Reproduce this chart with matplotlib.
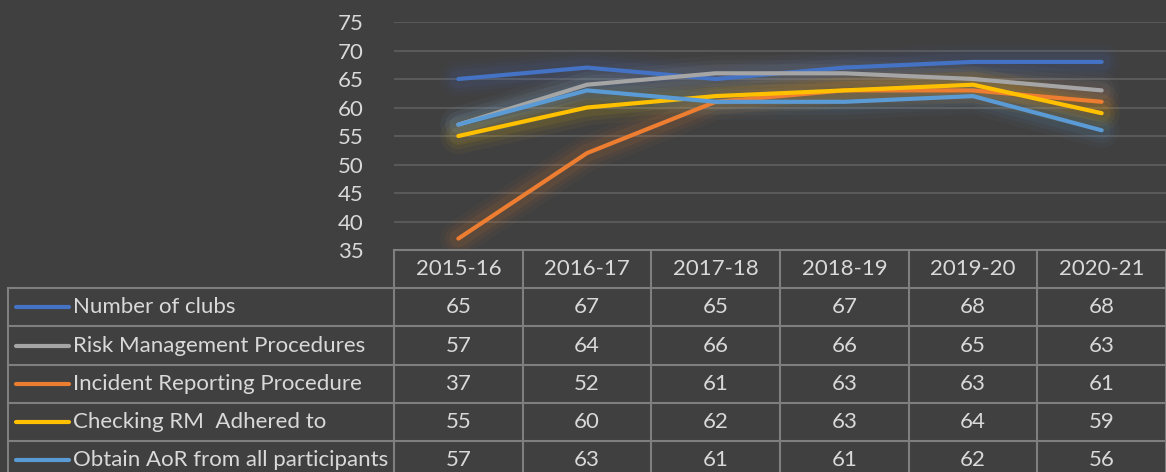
import matplotlib.pyplot as plt
from matplotlib.lines import Line2D

seasons = ["2015-16", "2016-17", "2017-18", "2018-19", "2019-20", "2020-21"]
series_names = [
    "Number of clubs",
    "Risk Management Procedures",
    "Incident Reporting Procedure",
    "Checking RM  Adhered to",
    "Obtain AoR from all participants",
]
number_of_clubs = [65, 67, 65, 67, 68, 68]
risk_management = [57, 64, 66, 66, 65, 63]
incident_reporting = [37, 52, 61, 63, 63, 61]
checking_rm = [55, 60, 62, 63, 64, 59]
obtain_aor = [57, 63, 61, 61, 62, 56]
series_values = [number_of_clubs, risk_management, incident_reporting, checking_rm, obtain_aor]
colors = ["#4472C4", "#A5A5A5", "#ED7D31", "#FFC000", "#5B9BD5"]
y_ticks = [35, 40, 45, 50, 55, 60, 65, 70, 75]

BG = "#404040"
TXT = "#D9D9D9"
GRID = "#5C5C5C"
BORDER = "#7F7F7F"
plt.rcParams["font.family"] = ["Lato", "DejaVu Sans"]
FS = 16

W, H = 1166, 472
fig = plt.figure(figsize=(W / 100, H / 100), dpi=100, facecolor=BG)

# plot area in pixels
px_left, px_right, px_top, px_bot = 394, 1166, 22, 250
ax = fig.add_axes([px_left / W, 1 - px_bot / H, (px_right - px_left) / W, (px_bot - px_top) / H])
ax.set_facecolor(BG)
ax.set_xlim(-0.5, len(seasons) - 0.5)
ax.set_ylim(35, 75)
for s in ax.spines.values():
    s.set_visible(False)
ax.set_xticks([])
ax.set_yticks(y_ticks)
ax.set_yticklabels([str(t) for t in y_ticks], color=TXT, fontsize=FS)
ax.tick_params(axis="y", length=0, pad=22)
for t in y_ticks[1:]:
    ax.axhline(t, color=GRID, lw=1.3, zorder=1)

x = list(range(len(seasons)))
for vals, c in zip(series_values, colors):
    # soft glow
    for w, a in [(26, 0.04), (19, 0.06), (13, 0.08)]:
        ax.plot(x, vals, color=c, lw=w, alpha=a, solid_capstyle="round",
                solid_joinstyle="round", zorder=2)
for vals, c in zip(series_values, colors):
    ax.plot(x, vals, color=c, lw=3, solid_capstyle="round", solid_joinstyle="round", zorder=3)

# data table drawn in pixel coordinates
tab = fig.add_axes([0, 0, 1, 1])
tab.set_xlim(0, W)
tab.set_ylim(H, 0)
tab.axis("off")
tab.patch.set_alpha(0)

ncol = len(seasons)
col_w = (px_right - px_left) / ncol
col_edges = [px_left + i * col_w for i in range(ncol + 1)]
row_h = 38.2
head_top = px_bot
row_tops = [head_top + row_h * (i + 1) for i in range(len(series_names) + 1)]
label_left = 8

lk = dict(color=BORDER, lw=1.5)
# header
tab.add_line(Line2D([px_left, px_right], [head_top, head_top], **lk))
for xe in col_edges:
    tab.add_line(Line2D([xe, xe], [head_top, H + 10], **lk))
tab.add_line(Line2D([label_left, label_left], [row_tops[0], H + 10], **lk))
for yt in row_tops:
    tab.add_line(Line2D([label_left, px_right], [yt, yt], **lk))

for i, s in enumerate(seasons):
    tab.text((col_edges[i] + col_edges[i + 1]) / 2, head_top + row_h / 2, s,
             ha="center", va="center", color=TXT, fontsize=FS)

for r, (name, vals, c) in enumerate(zip(series_names, series_values, colors)):
    yc = row_tops[r] + row_h / 2
    tab.add_line(Line2D([16, 69], [yc, yc], color=c, lw=3, solid_capstyle="round"))
    tab.text(73, yc, name, ha="left", va="center", color=TXT, fontsize=FS)
    for i, v in enumerate(vals):
        tab.text((col_edges[i] + col_edges[i + 1]) / 2, yc, str(v),
                 ha="center", va="center", color=TXT, fontsize=FS)

fig.savefig("out.png", dpi=100, facecolor=BG)
